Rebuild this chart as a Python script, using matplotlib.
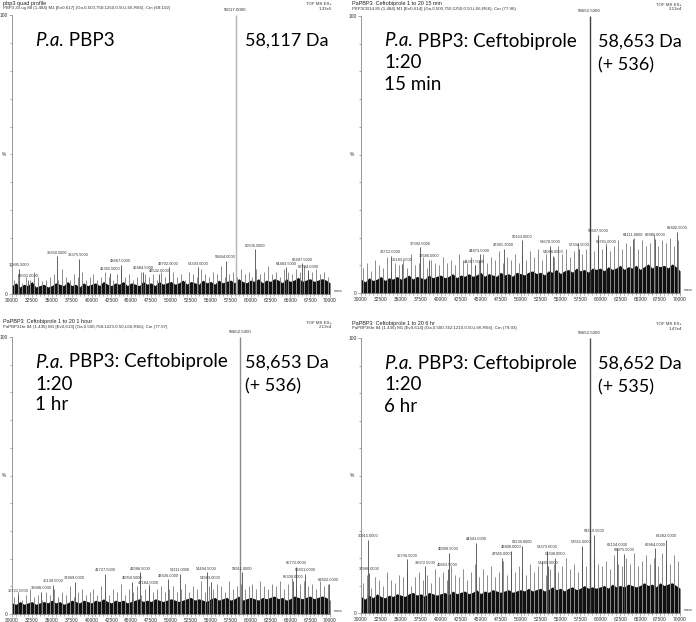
import numpy as np
import matplotlib.pyplot as plt

W, H = 696, 622

# ---- data (heights in %) ----
grid_band = list(range(30000, 70001, 500))
grid_spike = list(range(30250, 70000, 500))

p1_band = [3, 4, 2.5, 3.5, 3, 4.5, 2.5, 3, 3.5, 2.5, 3, 4, 3.5, 3, 4.5, 3, 3.5, 2.5, 4, 3,
           3.5, 4, 3, 4.5, 3.5, 3, 4, 3.5, 4.5, 3, 4, 3.5, 3, 4.5, 3.5, 4, 3, 4.5, 3.5, 4,
           4.5, 3.5, 4, 5, 3.5, 4.5, 4, 3.5, 5, 4, 4.5, 3.5, 5, 4, 4.5, 5, 4, 5.5, 4.5, 4,
           5, 4.5, 5.5, 4, 5, 4.5, 5.5, 5, 4, 5.5, 4.5, 5, 6, 4.5, 5, 5.5, 4.5, 5, 5.5, 5, 4]
p1_spikes = [5, 7, 4, 6, 5, 8, 6, 4.5, 5, 6, 7, 5, 9, 6, 5, 7, 6, 8, 5, 6,
             7, 5, 6, 8, 6, 5, 7, 9, 6, 7, 5, 6, 8, 7, 6, 7, 5, 8, 6, 7,
             8, 6, 7, 5, 8, 7, 6, 9, 7, 6, 8, 7, 10, 6, 7, 8, 6, 9, 7, 8,
             6, 9, 7, 8, 10, 7, 8, 6, 9, 8, 7, 9, 8, 10, 7, 8, 9, 7, 8, 6]
p1_peaks = [30895.5, 32031.0, 35650.5, 38375.5, 42355.5, 43667.0, 46484.5, 48542.0,
            49702.0, 53393.0, 56864.0, 60506.5, 64483.5, 66497.5, 67284.0]
p1_heights = [9, 5, 13.5, 12.5, 7.5, 10.5, 8, 7, 9.5, 9.5, 12, 16, 9.5, 11, 8.5]

p2_band = [5, 4, 5.5, 4.5, 5, 6, 4.5, 5.5, 5, 6, 5, 5.5, 6.5, 5, 6, 5.5, 5, 6.5, 5.5, 6,
           6.5, 5.5, 6, 7, 5.5, 6.5, 6, 7, 6, 6.5, 7.5, 6, 7, 6.5, 6, 7.5, 6.5, 7, 6, 7.5,
           7, 6.5, 7.5, 8, 7, 7.5, 6.5, 8, 7.5, 8.5, 7, 8, 8.5, 7.5, 9, 8, 8.5, 7.5, 9, 8.5,
           9, 8, 9.5, 8.5, 9, 10, 8.5, 9.5, 9, 10, 8.5, 9.5, 10.5, 9, 10, 9.5, 10, 9, 10.5, 9.5, 8]
p2_spikes = [9, 11, 8, 12, 10, 9, 13, 8, 11, 10, 12, 9, 14, 10, 11, 13, 9, 12, 11, 10,
             13, 11, 12, 10, 14, 12, 11, 13, 10, 12, 14, 11, 13, 12, 15, 11, 13, 12, 14, 11,
             14, 12, 15, 13, 16, 12, 14, 15, 13, 17, 14, 16, 13, 15, 18, 14, 16, 17, 15, 19,
             16, 18, 15, 17, 19, 16, 18, 17, 20, 16, 19, 17, 18, 21, 17, 19, 18, 20, 17, 19]
p2_peaks = [33712.0, 35183.5, 37392.5, 38580.0, 44267.5, 44873.0, 47901.3, 50163.0,
            53678.5, 54088.0, 57334.5, 59697.5, 60761.0, 64111.0, 66880.0, 69602.5]
p2_heights = [13.5, 10.5, 16.5, 12, 10, 14, 16, 19, 17, 13.5, 16, 21, 17, 19.5, 19.5, 22]

p3_band = [4, 3.5, 4.5, 3.5, 4, 4.5, 3.5, 4, 4.5, 4, 5, 4, 4.5, 3.5, 4, 5, 4.5, 4, 5, 4.5,
           4, 5, 4.5, 5.5, 4.5, 4, 5, 4.5, 5, 4, 4.5, 5, 5.5, 4.5, 5, 4.5, 5.5, 5, 4.5, 5,
           5.5, 5, 4.5, 5, 5.5, 6, 5, 5.5, 5, 4.5, 5.5, 6, 5, 5.5, 6, 5, 5.5, 6.5, 5, 5.5,
           6, 5.5, 5, 6, 5.5, 6, 6.5, 5.5, 6, 5, 5.5, 6.5, 6, 5.5, 6, 6.5, 5.5, 6, 6.5, 6, 5]
p3_spikes = [6, 8, 5, 7, 9, 6, 7, 5, 8, 7, 9, 6, 8, 7, 10, 6, 8, 9, 7, 8,
             9, 7, 10, 8, 7, 9, 8, 11, 7, 9, 8, 10, 7, 9, 11, 8, 9, 10, 8, 9,
             10, 8, 9, 11, 8, 10, 9, 12, 8, 10, 9, 11, 10, 8, 12, 9, 10, 11, 9, 10,
             11, 9, 12, 10, 9, 11, 10, 12, 9, 11, 13, 10, 11, 12, 10, 11, 9, 12, 10, 11]
p3_peaks = [30721.5, 33698.0, 35139.5, 37869.0, 41727.5, 45058.5, 46088.5, 47184.5,
            49636.0, 51111.0, 54494.5, 54983.0, 58911.0, 65309.0, 65772.0, 66831.0, 69822.0]
p3_heights = [7, 8, 10.5, 11.5, 14.5, 11.5, 15, 10, 12.5, 14.5, 15, 11.5, 15, 12, 17, 14.5, 11]

p4_band = [6, 5, 6.5, 5.5, 7, 6, 5.5, 6.5, 6, 7, 6.5, 6, 7, 7.5, 6.5, 7, 6, 7.5, 7, 6.5,
           7, 7.5, 6.5, 8, 7, 7.5, 8, 7, 7.5, 8.5, 7, 8, 7.5, 8.5, 8, 7.5, 8, 8.5, 7.5, 8,
           8.5, 8, 9, 8, 8.5, 9, 8, 8.5, 9.5, 8.5, 9, 8, 9, 9.5, 8.5, 9, 10, 9, 9.5, 9,
           9.5, 10, 9, 10.5, 9.5, 10, 9.5, 10.5, 10, 9.5, 10, 11, 10, 10.5, 9.5, 11, 10, 10.5, 11, 10, 9]
p4_spikes = [11, 14, 9, 13, 12, 10, 15, 12, 11, 14, 13, 16, 10, 13, 15, 12, 14, 11, 16, 13,
             15, 12, 17, 14, 13, 16, 12, 15, 18, 13, 16, 14, 17, 13, 15, 19, 14, 16, 15, 17,
             16, 14, 18, 15, 17, 19, 14, 16, 18, 15, 17, 20, 16, 18, 15, 19, 17, 16, 20, 18,
             17, 19, 16, 21, 18, 17, 20, 18, 22, 17, 19, 21, 18, 20, 17, 22, 19, 18, 21, 19]
p4_peaks = [30915.0, 30986.0, 35736.5, 38072.5, 40863.5, 40989.5, 44441.0, 47655.0,
            48800.0, 50230.0, 53373.0, 54308.0, 53465.0, 57651.0, 59219.5, 62134.0,
            62975.5, 66864.0, 68282.0]
p4_heights = [26.5, 14.5, 19.5, 17, 16, 22, 25.5, 20, 22.5, 24.5, 22.5, 20, 17, 24.5,
              28.5, 23.5, 21.5, 23.5, 26.5]

main_mass = [58117.0, 58652.5, 58652.5, 58652.5]
headers = [("pbp3 quad profile",
            "PBP3 20 ug 88 (1.484) M1 [Ev0,617] (Ga,0.500,750:1250,0.50,L66,R66); Cm (68:102)"),
           ("PaPBP3  Ceftobiprole 1 to 20 15 min",
            "PEP3CB14 85 (1.484) M1 [Ev0,614] (Ga,0.500,750:1250,0.50,L66,R66); Cm (77:96)"),
           ("PaPBP3  Ceftobiprole 1 to 20 1 hour",
            "PaPBP31hr 84 (1.436) M1 [Ev0,613] (Ga,0.500,768:1223,0.50,L66,R66); Cm (77:97)"),
           ("PaPBP3  Ceftobiprole 1 to 20 6 hr",
            "PaPBP36hr 84 (1.436) M1 [Ev0,614] (Ga,0.500,742:1210,0.50,L66,R66); Cm (79:93)")]
scales = ["1.33e5", "2.13e4", "2.13e4", "1.47e4"]
title_lines = [["PBP3"],
               ["PBP3: Ceftobiprole", "1:20", "15 min"],
               ["PBP3: Ceftobiprole", "1:20", "1 hr"],
               ["PBP3: Ceftobiprole", "1:20", "6 hr"]]
mass_lines = [["58,117 Da"], ["58,653 Da", "(+ 536)"], ["58,653 Da", "(+ 536)"],
              ["58,652 Da", "(+ 535)"]]

bands = [p1_band, p2_band, p3_band, p4_band]
spikes = [p1_spikes, p2_spikes, p3_spikes, p4_spikes]
peaks = [p1_peaks, p2_peaks, p3_peaks, p4_peaks]
heights = [p1_heights, p2_heights, p3_heights, p4_heights]

# ---- layout (pixels: left, top, right, bottom) ----
boxes = [(12, 15, 330, 294), (361, 16, 680, 293), (12, 337, 330, 614), (361, 338, 680, 613)]
main_colors = ['#b5b5b5', '#404040', '#8a8a8a', '#505050']
SMALL = 'Liberation Sans'
BIG = 'Lato'

fig = plt.figure(figsize=(W / 100, H / 100), dpi=100)


def fx(x):
    return x / W


def fy(y):
    return 1 - y / H


for i in range(4):
    l, t, r, b = boxes[i]
    ax = fig.add_axes([fx(l), fy(b), (r - l) / W, (b - t) / H])
    ax.set_xlim(30000, 70000)
    ax.set_ylim(0, 100)
    ax.vlines(grid_spike, 0, spikes[i], color='#8c8c8c', lw=0.7)
    ax.fill_between(grid_band, 0, bands[i], color='#111111', lw=0)
    ax.vlines(peaks[i], 0, heights[i], color='#4a4a4a', lw=0.6)
    for m, h in zip(peaks[i], heights[i]):
        ax.text(m, h + 0.6, f'{m:.4f}', fontsize=2.9, ha='center', va='bottom',
                color='#333333', family=SMALL)
    ax.vlines([main_mass[i]], 0, 100, color=main_colors[i], lw=1.0)
    ax.text(main_mass[i], 101.2, f'{main_mass[i]:.4f}', fontsize=3.2, ha='center',
            va='bottom', color='#333333', family=SMALL, clip_on=False)

    for s in ['top', 'right']:
        ax.spines[s].set_visible(False)
    for s in ['left', 'bottom']:
        ax.spines[s].set_color('#888888')
        ax.spines[s].set_linewidth(0.6)
    ax.set_xticks(range(30000, 70001, 2500))
    ax.set_xticks(range(30000, 70001, 500), minor=True)
    ax.set_yticks([0, 100])
    ax.set_yticks(range(0, 101, 10), minor=True)
    ax.tick_params(which='both', direction='out', color='#888888', width=0.5,
                   labelsize=3.5, pad=1, labelcolor='#333333')
    ax.tick_params(which='major', length=2)
    ax.tick_params(which='minor', length=1.2)
    for lab in ax.get_xticklabels() + ax.get_yticklabels():
        lab.set_family(SMALL)
    ax.text(-0.02, 0.5, '%', transform=ax.transAxes, fontsize=3.5, ha='right',
            va='center', family=SMALL, color='#333333')
    ax.text(1.012, 0.004, 'mass', transform=ax.transAxes, fontsize=2.6, ha='left',
            va='bottom', family=SMALL, color='#333333')

    # header text
    hx = l - 9
    hy = t - 12 if i < 2 else t - 15
    fig.text(fx(hx), fy(hy), headers[i][0], fontsize=4, family=SMALL, va='center',
             color='#222222')
    fig.text(fx(hx), fy(hy + 5), headers[i][1], fontsize=3.2, family=SMALL,
             va='center', color='#333333')
    fig.text(fx(r + 2), fy(hy + 1), 'TOF MS ES+', fontsize=3.2, family=SMALL,
             va='center', ha='right', color='#333333')
    fig.text(fx(r + 2), fy(hy + 5.5), scales[i], fontsize=3.2, family=SMALL,
             va='center', ha='right', color='#333333')

    # big annotations
    tx = l + 23
    ty = t + 25
    first = fig.text(fx(tx), fy(ty), 'P.a.', fontsize=13.5, family=BIG, style='italic',
                     va='center', ha='left')
    ax.annotate(' ' + title_lines[i][0], xy=(1, 0), xycoords=first, fontsize=13.5,
                family=BIG, va='bottom', ha='left', annotation_clip=False)
    for k, line in enumerate(title_lines[i][1:]):
        fig.text(fx(tx), fy(ty + 22 + 21 * k), line, fontsize=13.5, family=BIG,
                 va='center', ha='left')
    mx = l + 233 + 4 * (i % 2)
    for k, line in enumerate(mass_lines[i]):
        fig.text(fx(mx), fy(ty + 1 + 23 * k), line, fontsize=13, family=BIG,
                 va='center', ha='left')

fig.savefig('out.png', dpi=100)
